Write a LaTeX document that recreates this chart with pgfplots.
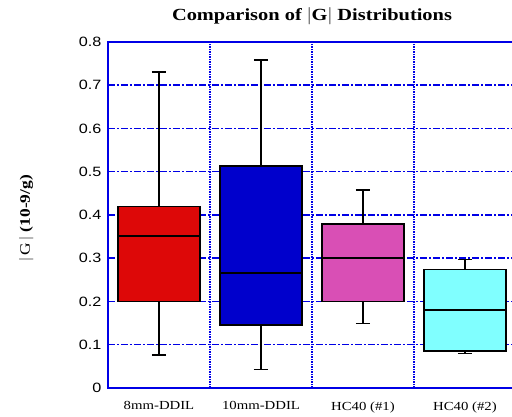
\documentclass[border=0pt]{standalone}
\usepackage{fontspec}
\setmainfont[FakeStretch=1.2]{Liberation Serif}
\newfontfamily\tickfont[FakeStretch=1.2]{Liberation Sans}
\usepackage{pgfplots}
\usepgfplotslibrary{statistics}
\pgfplotsset{compat=1.18}

\definecolor{boxred}{RGB}{221,8,8}
\definecolor{boxblue}{RGB}{0,0,204}
\definecolor{boxmag}{RGB}{217,79,181}
\definecolor{boxcyan}{RGB}{128,255,255}
\definecolor{axblue}{RGB}{0,0,230}

\begin{document}
\begin{tikzpicture}
\begin{axis}[
    name=ax, at={(0,0)}, anchor=south west,
    scale only axis, width=408pt, height=346pt,
    xmin=0, xmax=4, ymin=0, ymax=0.8,
    boxplot/draw direction=y,
    xtick={0.5,1.5,2.5,3.5},
    xticklabels={8mm-DDIL,10mm-DDIL,HC40 (\#1),HC40 (\#2)},
    major x tick style={draw=none},
    minor xtick={1,2,3},
    minor x tick style={draw=none},
    xminorgrids,
    minor x grid style={axblue, line width=1.1pt, dash pattern=on 1.5pt off 1pt},
    ytick={0,0.1,0.2,0.3,0.4,0.5,0.6,0.7,0.8},
    ymajorgrids,
    major y grid style={axblue, line width=1.5pt, dash pattern=on 7pt off 2pt on 2pt off 2pt},
    axis line style={axblue, line width=2pt},
    ytick style={axblue, line width=1.5pt},
    major tick length=6pt,
    tick align=inside,
    ytick pos=left,
    yticklabel style={font=\tickfont\fontsize{13.5}{13.5}\selectfont, xshift=-3pt, /pgf/number format/fixed, /pgf/number format/precision=1},
    /pgf/number format/assume math mode=true,
    xticklabel style={font=\fontsize{12.3}{12.3}\selectfont, yshift=-10pt},
    title={\textbf{Comparison of $|$G$|$ Distributions}},
    title style={font=\fontsize{17}{17}\selectfont, yshift=8pt},
    ylabel={$|$\,G\,$|$ \textbf{(10-9/g)}},
    every axis y label/.style={at={(axis description cs:-0.2,0.49)}, rotate=90, anchor=center, font=\fontsize{14.5}{14.5}\selectfont},
    every axis plot/.append style={draw=black, line width=1.6pt, solid},
]
\addplot[fill=boxred, boxplot prepared={draw position=0.5, median=0.351,
    upper quartile=0.42, lower quartile=0.2, upper whisker=0.731,
    lower whisker=0.076, box extend=0.8, whisker extend=0.14}] coordinates {};
\addplot[fill=boxblue, boxplot prepared={draw position=1.5, median=0.266,
    upper quartile=0.513, lower quartile=0.146, upper whisker=0.758,
    lower whisker=0.043, box extend=0.8, whisker extend=0.14}] coordinates {};
\addplot[fill=boxmag, boxplot prepared={draw position=2.5, median=0.301,
    upper quartile=0.379, lower quartile=0.2, upper whisker=0.458,
    lower whisker=0.149, box extend=0.8, whisker extend=0.14}] coordinates {};
\addplot[fill=boxcyan, boxplot prepared={draw position=3.5, median=0.18,
    upper quartile=0.274, lower quartile=0.085, upper whisker=0.297,
    lower whisker=0.08, box extend=0.8, whisker extend=0.14}] coordinates {};
\end{axis}
\pgfresetboundingbox
\path[use as bounding box] (-108pt,-29pt) rectangle (404pt,388pt);
\end{tikzpicture}
\end{document}
